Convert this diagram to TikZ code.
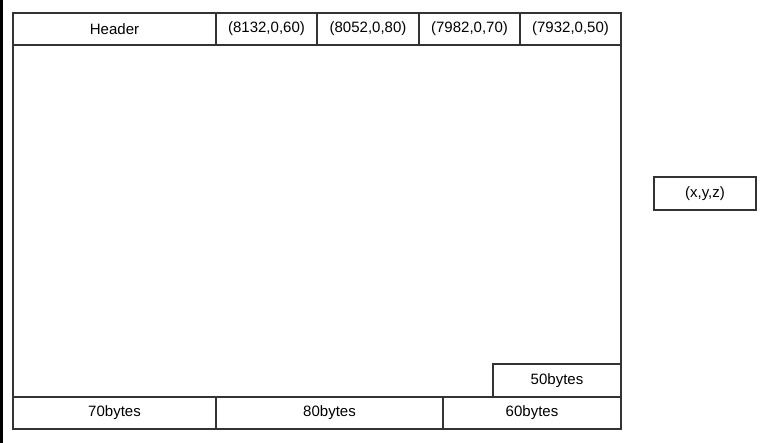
\documentclass[tikz,border=0pt]{standalone}
\usepackage{fontspec}
\setmainfont{Liberation Sans}
\usetikzlibrary{positioning}
\definecolor{cellline}{HTML}{333333}

\begin{document}
\begin{tikzpicture}[
    x=1pt, y=-1pt,
    node distance=0pt,
    cell/.style={draw=cellline,line width=1.2pt,rectangle,inner sep=0pt,outer sep=0pt,
      minimum height=32pt,font=\fontsize{15}{18}\selectfont},
    coord/.style={cell,minimum width=101pt},
    bytes/.style={cell},
  ]
    \useasboundingbox (0,0) rectangle (770,443);
    \fill[black] (0,0) rectangle (3,443);

    % page outline
    \node[draw=cellline,line width=1.2pt,inner sep=0pt,outer sep=0pt,
      minimum width=608pt,minimum height=416pt,anchor=north west] (page) at (13,13) {};

    % header row
    \node[cell, minimum width=203pt, anchor=north west] (header) at (page.north west) {Header};
    \node[coord, right=of header] (rec1) {(8132,0,60)};
    \node[coord, right=of rec1, minimum width=102pt] (rec2) {(8052,0,80)};
    \node[coord, right=of rec2] (rec3) {(7982,0,70)};
    \node[coord, right=of rec3] (rec4) {(7932,0,50)};

    % free space row
    \node[bytes, minimum width=203pt, anchor=south west] (free70) at (page.south west) {70bytes};
    \node[bytes, minimum width=227pt, right=of free70] (free80) {80bytes};
    \node[bytes, minimum width=178pt, right=of free80] (free60) {60bytes};
    \node[bytes, minimum width=128pt, minimum height=33pt, anchor=south east] (free50) at (free60.north east) {50bytes};

    % record format
    \node[cell, minimum width=102pt, minimum height=33pt, anchor=north west] (format) at (654,177) {(x,y,z)};
\end{tikzpicture}
\end{document}
